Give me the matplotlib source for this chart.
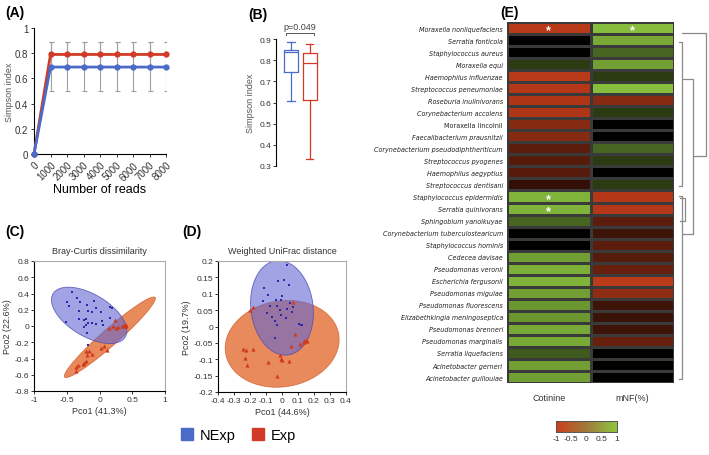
import numpy as np
import matplotlib
matplotlib.use('Agg')
import matplotlib.pyplot as plt
from matplotlib.colors import LinearSegmentedColormap
from matplotlib.lines import Line2D
from matplotlib import font_manager

plt.rcParams['font.family'] = ['Liberation Sans', 'DejaVu Sans']
plt.rcParams['axes.linewidth'] = 0.8

BLUE = '#4a6cc8'
RED = '#d03a26'

# ---------------- data ----------------
# (A) Simpson index vs sequencing depth
reads = [0, 1000, 2000, 3000, 4000, 5000, 6000, 7000, 8000]
simpson_nexp = [0, 0.69, 0.69, 0.69, 0.69, 0.69, 0.69, 0.69, 0.69]
simpson_exp = [0, 0.79, 0.79, 0.79, 0.79, 0.79, 0.79, 0.79, 0.79]
err_nexp_lo = [0, 0.19, 0.19, 0.19, 0.19, 0.19, 0.19, 0.19, 0.19]
err_nexp_hi = [0, 0.195, 0.195, 0.195, 0.195, 0.195, 0.195, 0.195, 0.195]
err_exp_lo = [0, 0.09, 0.09, 0.09, 0.09, 0.09, 0.09, 0.09, 0.09]
err_exp_hi = [0, 0.095, 0.095, 0.095, 0.095, 0.095, 0.095, 0.095, 0.095]

# (B) Simpson index box plots
box_nexp = dict(whislo=0.606, q1=0.746, med=0.837, q3=0.85, whishi=0.884)
box_exp = dict(whislo=0.333, q1=0.613, med=0.785, q3=0.834, whishi=0.876)
p_text = 'p=0.049'

# (C) Bray-Curtis PCoA
c_nexp_x = [-0.42, -0.50, -0.47, -0.35, -0.30, -0.32, -0.19, -0.09, -0.05, -0.17, -0.12, 0.02, 0.16, 0.19,
            -0.51, -0.31, -0.24, -0.20, -0.18, -0.12, -0.06, 0.04, 0.16, -0.21, -0.23, -0.19, -0.17, 0.05]
c_nexp_y = [0.42, 0.29, 0.25, 0.35, 0.29, 0.18, 0.26, 0.31, 0.22, 0.18, 0.17, 0.17, 0.24, 0.22,
            0.05, 0.09, 0.08, 0.09, 0.04, 0.04, 0.02, 0.06, 0.10, 0.01, -0.01, -0.09, -0.23, 0.01]
c_exp_x = [0.23, 0.14, 0.20, 0.25, 0.29, 0.34, 0.37, 0.40, 0.41, 0.37, 0.07, 0.12, -0.21, -0.19,
           -0.11, -0.16, -0.21, -0.24, -0.33, -0.25, -0.36, -0.36, 0.03]
c_exp_y = [0.07, -0.02, 0.00, -0.02, -0.01, 0.00, 0.01, 0.01, 0.00, 0.00, -0.24, -0.29, -0.31, -0.36,
           -0.35, -0.31, -0.43, -0.45, -0.48, -0.47, -0.55, -0.51, -0.27]
# ellipses: centre, first and second semi-axis vectors (data units)
c_ell_nexp = [(-0.158, 0.131), (0.564, -0.129), (-0.115, 0.322)]
c_ell_exp = [(0.158, -0.139), (0.689, 0.490), (0.085, -0.076)]

# (D) Weighted UniFrac PCoA
d_nexp_x = [0.029, -0.111, -0.090, -0.119, -0.025, 0.015, 0.042, -0.002, -0.008, -0.036, -0.075, -0.034,
            0.050, 0.067, 0.034, -0.096, -0.065, -0.013, -0.004, 0.025, 0.065, -0.042, -0.029, 0.109,
            0.117, 0.126, -0.046]
d_nexp_y = [0.188, 0.118, 0.096, 0.079, 0.138, 0.143, 0.127, 0.093, 0.082, 0.081, 0.062, 0.062,
            0.073, 0.060, 0.053, 0.041, 0.029, 0.050, 0.036, 0.026, 0.043, 0.017, 0.005, 0.009,
            0.006, 0.005, -0.036]
d_exp_x = [0.067, -0.184, -0.201, 0.080, 0.054, 0.113, 0.138, 0.151, 0.159, 0.140, -0.243, -0.224,
           -0.182, -0.231, -0.218, -0.088, -0.013, -0.008, -0.002, 0.046, -0.029]
d_exp_y = [0.074, 0.059, 0.050, -0.023, -0.061, -0.053, -0.044, -0.040, -0.044, -0.048, -0.070, -0.071,
           -0.070, -0.096, -0.118, -0.109, -0.088, -0.099, -0.101, -0.106, -0.150]
d_ell_nexp = [(0.0, 0.057), (-0.037, 0.144), (0.193, 0.012)]
d_ell_exp = [(0.001, -0.053), (0.353, 0.030), (-0.046, 0.129)]

# (E) correlation heatmap
species = ['Moraxella nonliquefaciens', 'Serratia fonticola', 'Staphylococcus aureus', 'Moraxella equi',
           'Haemophilus influenzae', 'Streptococcus peneumoniae', 'Roseburia inulinivorans',
           'Corynebacterium accolens', 'Moraxella lincolnii', 'Faecalibacterium prausnitzii',
           'Corynebacterium pseudodiphtheriticum', 'Streptococcus pyogenes', 'Haemophilus aegyptius',
           'Streptococcus dentisani', 'Staphylococcus epidermidis', 'Serratia quinivorans',
           'Sphingobium yanoikuyae', 'Corynebacterium tuberculostearicum', 'Staphylococcus hominis',
           'Cedecea davisae', 'Pseudomonas veronii', 'Escherichia fergusonii', 'Pseudomonas migulae',
           'Pseudomonas fluorescens', 'Elizabethkingia meningoseptica', 'Pseudomonas brenneri',
           'Pseudomonas marginalis', 'Serratia liquefaciens', 'Acinetobacter gerneri',
           'Acinetobacter guillouiae']
cotinine = [-0.9, 0, 0, 0.3, -0.9, -0.88, -0.85, -0.85, -0.65, -0.65, -0.45, -0.42, -0.42, -0.25,
            0.9, 0.9, 0.5, 0, 0, 0.8, 0.88, 0.9, 0.8, 0.75, 0.75, 0.85, 0.85, 0.45, 0.8, 0.8]
mnf = [0.95, 0.85, 0.5, 0.8, 0.3, 0.95, -0.65, 0.3, 0, 0, 0.5, 0.3, 0, 0.3,
       -0.88, -0.88, -0.45, -0.3, -0.45, -0.42, -0.5, -0.92, -0.7, -0.3, -0.28, -0.3, -0.5, 0, 0, 0]
columns = ['Cotinine', 'mNF(%)']
sig_cotinine = [0, 14, 15]
sig_mnf = [0]
non_italic = ['Moraxella lincolnii']
# dendrogram links: (pos_a, pos_b, height_a, height_b, merge_height)
dendro_links = [(1.7, 13.6, 3, 3, 6), (14.5, 29.7, 3, 3, 6), (14.6, 16.5, 4, 4, 9),
                (4.74, 17.6, 7, 7, 17), (0.9, 11.1, 6, 17, 30)]

# ---------------- figure ----------------
W, H = 709, 456
fig = plt.figure(figsize=(W / 100, H / 100), dpi=100)


def box(l, t, r, b):
    return [l / W, 1 - b / H, (r - l) / W, (b - t) / H]


def panel_label(x, y, s):
    fig.text(x / W, 1 - y / H, s, fontsize=10, fontweight='bold', ha='left', va='center')


def fmt(v):
    return f'{v:g}'


# (A)
ax = fig.add_axes(box(34, 29, 166, 155))
ax.errorbar(reads, simpson_nexp, yerr=[err_nexp_lo, err_nexp_hi], fmt='none', ecolor='#a0a0a0',
            elinewidth=0.8, capsize=1.8, capthick=0.8, zorder=1)
ax.errorbar(reads, simpson_exp, yerr=[err_exp_lo, err_exp_hi], fmt='none', ecolor='#a0a0a0',
            elinewidth=0.8, capsize=1.8, capthick=0.8, zorder=1)
ax.plot(reads, simpson_exp, color=RED, lw=2, marker='o', ms=3.5, clip_on=False, zorder=3)
ax.plot(reads, simpson_nexp, color=BLUE, lw=2, marker='o', ms=3.5, clip_on=False, zorder=3)
ax.set_xlim(0, 8000)
ax.set_ylim(0, 1)
ax.set_xticks(reads)
ax.set_xticklabels([str(r) for r in reads], rotation=45, ha='right', rotation_mode='anchor', fontsize=7)
ax.set_yticks([0, 0.2, 0.4, 0.6, 0.8, 1])
ax.set_yticklabels([fmt(v) for v in [0, 0.2, 0.4, 0.6, 0.8, 1]], fontsize=7)
ax.tick_params(length=2.5, width=0.7, colors='#333333', pad=1.5)
for s in ['top', 'right']:
    ax.spines[s].set_visible(False)
ax.set_xlabel('Number of reads', fontsize=9, labelpad=1)
ax.set_ylabel('Simpson index', fontsize=6.5, color='#555555', labelpad=1)
panel_label(5, 13, '(A)')

# (B)
ax = fig.add_axes(box(276, 40, 321, 167))
bp = ax.bxp([box_nexp, box_exp], positions=[1, 2], widths=0.75, showfliers=False, patch_artist=False)
for i, c in enumerate([BLUE, RED]):
    bp['boxes'][i].set(color=c, lw=0.9)
    bp['medians'][i].set(color=c, lw=0.9)
    for k in (2 * i, 2 * i + 1):
        bp['whiskers'][k].set(color=c, lw=0.9)
        bp['caps'][k].set(color=c, lw=0.9)
ax.set_xlim(0.2, 2.6)
ax.set_ylim(0.3, 0.9)
ax.set_xticks([])
ax.set_yticks([0.3, 0.4, 0.5, 0.6, 0.7, 0.8, 0.9])
ax.set_yticklabels([fmt(v) for v in [0.3, 0.4, 0.5, 0.6, 0.7, 0.8, 0.9]], fontsize=6)
ax.tick_params(length=2, width=0.7, colors='#333333', pad=1.5)
for s in ['top', 'right', 'bottom']:
    ax.spines[s].set_visible(False)
ax.set_ylabel('Simpson index', fontsize=6.5, color='#555555', labelpad=3)
ax.plot([0.72, 0.72, 2.2, 2.2], [0.918, 0.928, 0.928, 0.918], color='#555555', lw=0.7, clip_on=False)
ax.text(1.46, 0.94, p_text, fontsize=6.5, color='#444444', ha='center', va='bottom', clip_on=False)
panel_label(248, 15, '(B)')


def draw_ellipse(ax, params, face, edge, alpha, z):
    c, u, v = params
    t = np.linspace(0, 2 * np.pi, 200)
    xs = c[0] + np.cos(t) * u[0] + np.sin(t) * v[0]
    ys = c[1] + np.cos(t) * u[1] + np.sin(t) * v[1]
    ax.fill(xs, ys, facecolor=face, alpha=alpha, edgecolor='none', zorder=z)
    ax.plot(xs, ys, color=edge, lw=0.6, alpha=0.8, zorder=z + 0.1)


def pcoa_panel(rect, title, nx, ny, ex, ey, ell_n, ell_e, xlim, ylim, xt, yt, xl, yl):
    ax = fig.add_axes(rect)
    draw_ellipse(ax, ell_e, '#e98a5c', '#d0602e', 1.0, 1)
    draw_ellipse(ax, ell_n, '#6266d2', '#4a4ab0', 0.6, 2)
    ax.scatter(nx, ny, s=4, marker='s', color='#2a2aa8', zorder=4, linewidths=0)
    ax.scatter(ex, ey, s=9, marker='^', color='#d0381a', zorder=4, linewidths=0)
    ax.set_xlim(*xlim)
    ax.set_ylim(*ylim)
    ax.set_xticks(xt)
    ax.set_xticklabels([fmt(v) for v in xt], fontsize=6)
    ax.set_yticks(yt)
    ax.set_yticklabels([fmt(v) for v in yt], fontsize=6)
    ax.tick_params(length=2, width=0.7, colors='#333333', pad=1.5)
    for s in ['top', 'right']:
        ax.spines[s].set_color('#aaaaaa')
    ax.set_title(title, fontsize=6.5, color='#333333', pad=6)
    ax.set_xlabel(xl, fontsize=6.5, color='#333333', labelpad=2)
    ax.set_ylabel(yl, fontsize=6.5, color='#333333', labelpad=2)
    return ax


pcoa_panel(box(34, 262, 165, 392), 'Bray-Curtis dissimilarity', c_nexp_x, c_nexp_y, c_exp_x, c_exp_y,
           c_ell_nexp, c_ell_exp, (-1, 1), (-0.8, 0.8), [-1, -0.5, 0, 0.5, 1],
           [-0.8, -0.6, -0.4, -0.2, 0, 0.2, 0.4, 0.6, 0.8], 'Pco1 (41.3%)', 'Pco2 (22.6%)')
panel_label(5, 232, '(C)')

pcoa_panel(box(218, 262, 346, 393), 'Weighted UniFrac distance', d_nexp_x, d_nexp_y, d_exp_x, d_exp_y,
           d_ell_nexp, d_ell_exp, (-0.4, 0.4), (-0.2, 0.2),
           [-0.4, -0.3, -0.2, -0.1, 0, 0.1, 0.2, 0.3, 0.4],
           [-0.2, -0.15, -0.1, -0.05, 0, 0.05, 0.1, 0.15, 0.2], 'Pco1 (44.6%)', 'Pco2 (19.7%)')
panel_label(182, 232, '(D)')

# legend
handles = [Line2D([], [], ls='none', marker='s', ms=8, color=BLUE),
           Line2D([], [], ls='none', marker='s', ms=8, color=RED)]
fig.legend(handles, ['NExp', 'Exp'], loc='center', bbox_to_anchor=(238 / W, 1 - 436 / H), ncol=2,
           frameon=False, fontsize=10.5, handletextpad=0.4, columnspacing=1.0, handlelength=1.0)

# (E) heatmap
cmap = LinearSegmentedColormap.from_list('rkg', ['#cc401b', '#000000', '#8dc63f'])
cbar_cmap = LinearSegmentedColormap.from_list('rg', ['#cc401b', '#a07a3a', '#8dc63f'])
ax = fig.add_axes(box(507, 23, 674, 384))
vals = np.column_stack([cotinine, mnf])
n = len(species)
ax.pcolormesh(np.arange(3), np.arange(n + 1), vals, cmap=cmap, vmin=-1, vmax=1,
              edgecolors='#3a3a3a', linewidth=0.8)
ax.set_xlim(0, 2)
ax.set_ylim(n, 0)
for r in sig_cotinine:
    ax.text(0.5, r + 0.72, '*', color='white', fontsize=9, fontweight='bold', ha='center', va='center')
for r in sig_mnf:
    ax.text(1.5, r + 0.72, '*', color='white', fontsize=9, fontweight='bold', ha='center', va='center')
ax.set_xticks([0.5, 1.5])
ax.set_xticklabels(columns, fontsize=6.5, color='#333333')
ax.set_yticks(np.arange(n) + 0.5)

# pick a narrow face for the long species names if one is installed
fonts = font_manager.fontManager.ttflist
names = {f.name for f in fonts}
lab_kw = dict(family='Liberation Sans', fontsize=5.0)
if 'Liberation Sans Narrow' in names:
    lab_kw = dict(family='Liberation Sans Narrow', fontsize=6.5)
elif any(f.name == 'DejaVu Sans' and f.stretch == 'condensed' for f in fonts):
    lab_kw = dict(family='DejaVu Sans', fontstretch='condensed', fontsize=5.1)
ax.set_yticklabels(species, color='#222222', **lab_kw)
for lab in ax.get_yticklabels():
    if lab.get_text() not in non_italic:
        lab.set_fontstyle('italic')
ax.tick_params(length=0, pad=3)
ax.tick_params(axis='x', pad=7)
for s in ax.spines.values():
    s.set_visible(False)
panel_label(500, 13, '(E)')

# dendrogram
ax = fig.add_axes(box(676, 23, 709, 384))
for pa, pb, ha, hb, hm in dendro_links:
    ax.plot([ha, hm, hm, hb], [pa, pa, pb, pb], color='#8a8a8a', lw=0.9)
ax.set_xlim(0, 33)
ax.set_ylim(n, 0)
ax.axis('off')

# colour bar
ax = fig.add_axes(box(556, 422, 617, 433))
ax.imshow(np.linspace(-1, 1, 256)[None, :], cmap=cbar_cmap, aspect='auto', extent=(-1, 1, 0, 1))
ax.set_yticks([])
ax.set_xticks([-1, -0.5, 0, 0.5, 1])
ax.set_xticklabels(['-1', '-0.5', '0', '0.5', '1'], fontsize=6, color='#333333')
ax.tick_params(length=0, pad=2)
for s in ax.spines.values():
    s.set_color('#555555')
    s.set_linewidth(0.7)

fig.savefig('out.png', dpi=100)
